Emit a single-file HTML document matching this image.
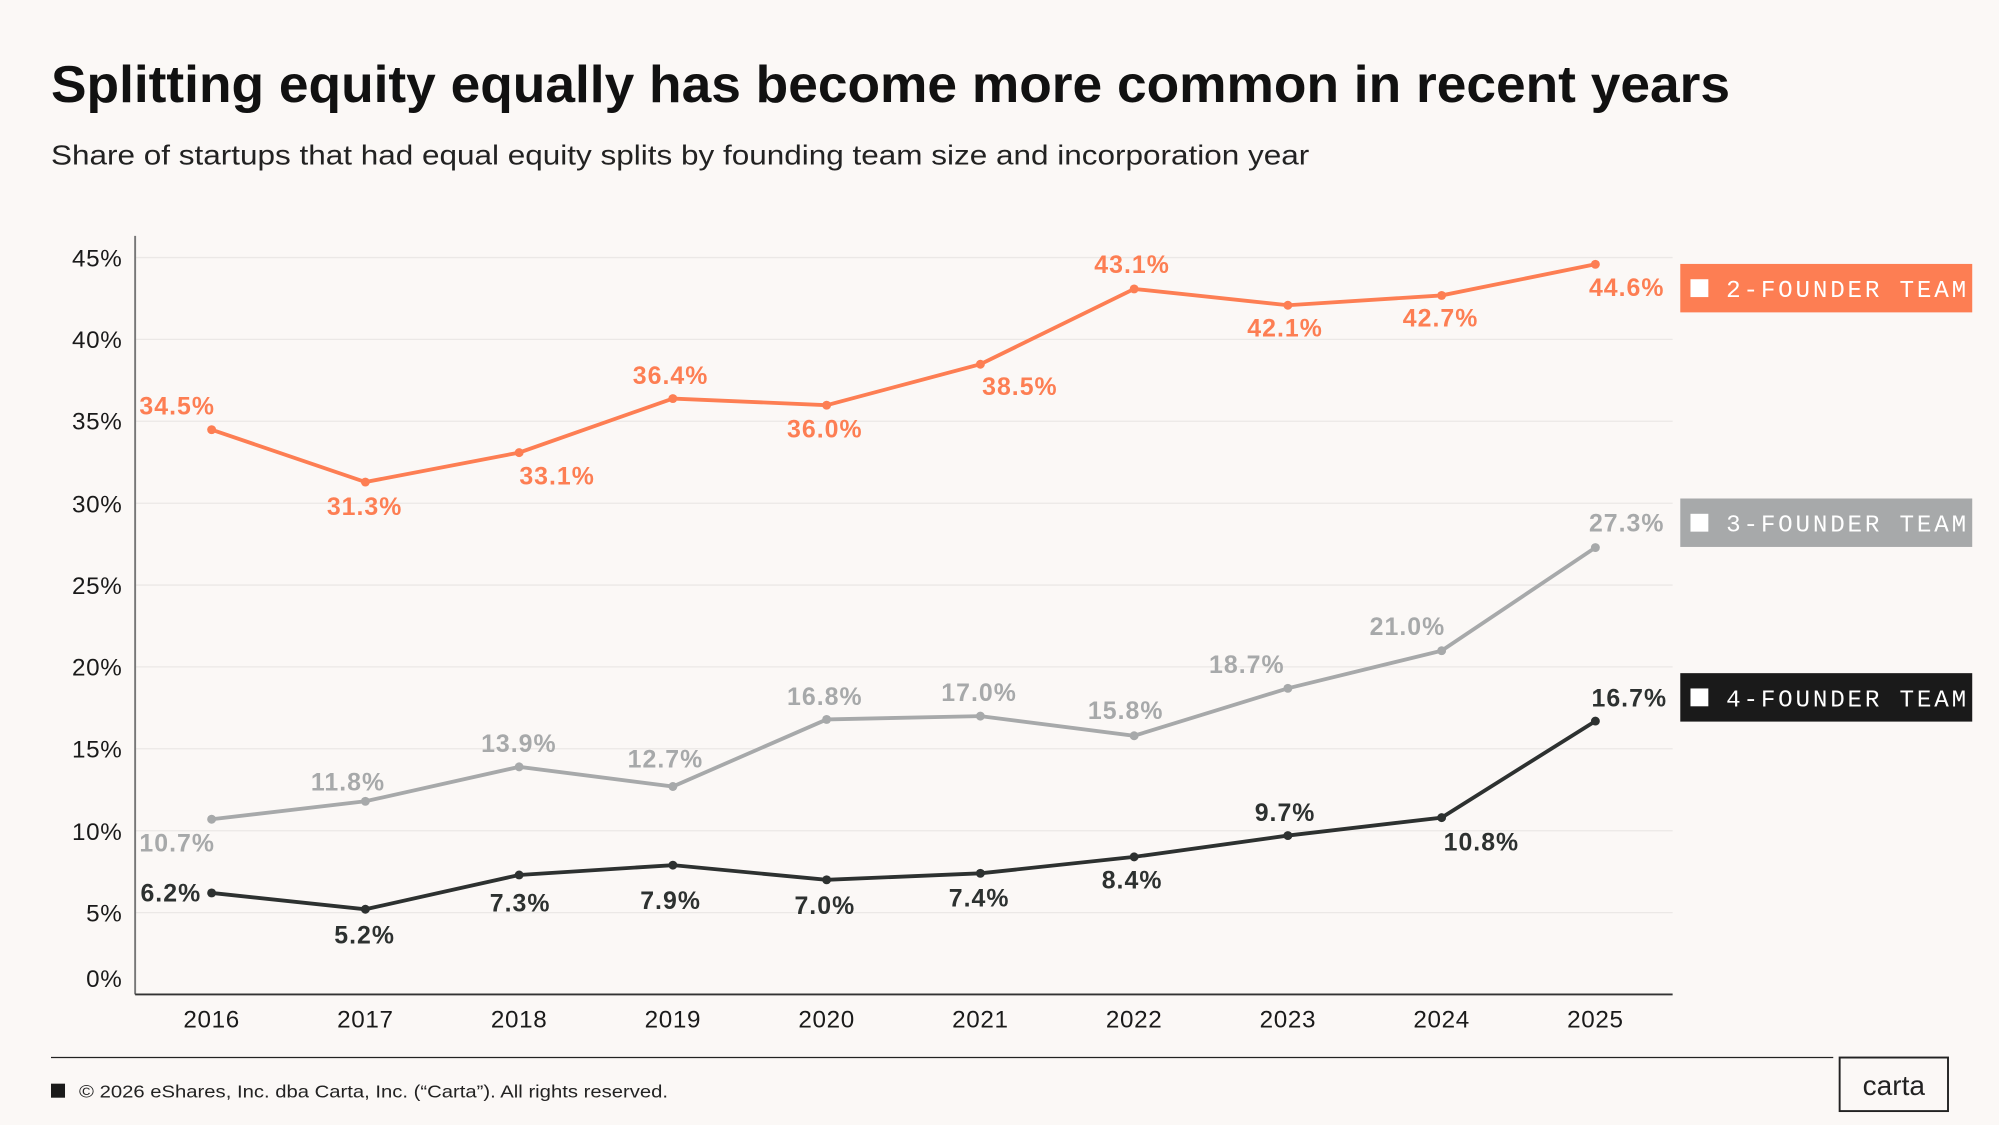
<!DOCTYPE html>
<html><head><meta charset="utf-8"><style>
html,body{margin:0;padding:0;background:#fbf8f6;}
svg{display:block;}
text{font-family:"Liberation Sans",sans-serif;}
.t{font-size:19px;fill:#1a1a1a;text-anchor:end;letter-spacing:0.5px;}
.y{font-size:19px;fill:#1a1a1a;text-anchor:middle;letter-spacing:0.5px;}
.l{font-size:19.5px;font-weight:bold;text-anchor:middle;letter-spacing:0.8px;}
.o{fill:#fd7e53}.g{fill:#a7a9aa}.d{fill:#2d3130}
.lg{font-family:"Liberation Mono",monospace;font-size:19px;fill:#fff;letter-spacing:2.2px;}
</style></head><body>
<svg width="1999" height="1125" viewBox="0 0 1568 882.4" xmlns="http://www.w3.org/2000/svg">
<rect width="1568" height="882.4" fill="#fbf8f6"/>
<text x="40" y="80" font-size="41" fill="#111" font-weight="bold" textLength="1317" lengthAdjust="spacingAndGlyphs">Splitting equity equally has become more common in recent years</text>
<text x="40" y="129" font-size="22" fill="#222" textLength="987" lengthAdjust="spacingAndGlyphs">Share of startups that had equal equity splits by founding team size and incorporation year</text>
<g stroke="#ebe8e6" stroke-width="1">
<line x1="106" x2="1312" y1="202" y2="202"/><line x1="106" x2="1312" y1="266.2" y2="266.2"/>
<line x1="106" x2="1312" y1="330.4" y2="330.4"/><line x1="106" x2="1312" y1="394.7" y2="394.7"/>
<line x1="106" x2="1312" y1="458.9" y2="458.9"/><line x1="106" x2="1312" y1="523.1" y2="523.1"/>
<line x1="106" x2="1312" y1="587.3" y2="587.3"/><line x1="106" x2="1312" y1="651.6" y2="651.6"/>
<line x1="106" x2="1312" y1="715.8" y2="715.8"/>
</g>
<line x1="106" y1="185" x2="106" y2="780" stroke="#777" stroke-width="1.5"/>
<line x1="106" y1="780" x2="1312" y2="780" stroke="#333" stroke-width="1.5"/>
<g class="t">
<text x="96" y="209">45%</text><text x="96" y="273">40%</text><text x="96" y="337">35%</text>
<text x="96" y="402">30%</text><text x="96" y="466">25%</text><text x="96" y="530">20%</text>
<text x="96" y="594">15%</text><text x="96" y="659">10%</text><text x="96" y="723">5%</text><text x="96" y="774">0%</text>
</g>
<g class="y">
<text x="166" y="806">2016</text><text x="286.6" y="806">2017</text><text x="407.2" y="806">2018</text>
<text x="527.8" y="806">2019</text><text x="648.4" y="806">2020</text><text x="769" y="806">2021</text>
<text x="889.6" y="806">2022</text><text x="1010.2" y="806">2023</text><text x="1130.8" y="806">2024</text><text x="1251.4" y="806">2025</text>
</g>
<polyline fill="none" stroke="#fd7e53" stroke-width="3" points="166,337 286.6,378.1 407.2,355 527.8,312.6 648.4,317.8 769,285.7 889.6,226.6 1010.2,239.4 1130.8,231.7 1251.4,207.3"/>
<polyline fill="none" stroke="#a7a9aa" stroke-width="3" points="166,642.6 286.6,628.5 407.2,601.5 527.8,616.9 648.4,564.3 769,561.7 889.6,577.1 1010.2,539.9 1130.8,510.4 1251.4,429.5"/>
<polyline fill="none" stroke="#2d3130" stroke-width="3" points="166,700.4 286.6,713.2 407.2,686.3 527.8,678.6 648.4,690.1 769,685 889.6,672.1 1010.2,655.4 1130.8,641.3 1251.4,565.6"/>
<g fill="#fd7e53"><circle cx="166" cy="337" r="3.5"/><circle cx="286.6" cy="378.1" r="3.5"/><circle cx="407.2" cy="355" r="3.5"/><circle cx="527.8" cy="312.6" r="3.5"/><circle cx="648.4" cy="317.8" r="3.5"/><circle cx="769" cy="285.7" r="3.5"/><circle cx="889.6" cy="226.6" r="3.5"/><circle cx="1010.2" cy="239.4" r="3.5"/><circle cx="1130.8" cy="231.7" r="3.5"/><circle cx="1251.4" cy="207.3" r="3.5"/></g>
<g fill="#a7a9aa"><circle cx="166" cy="642.6" r="3.5"/><circle cx="286.6" cy="628.5" r="3.5"/><circle cx="407.2" cy="601.5" r="3.5"/><circle cx="527.8" cy="616.9" r="3.5"/><circle cx="648.4" cy="564.3" r="3.5"/><circle cx="769" cy="561.7" r="3.5"/><circle cx="889.6" cy="577.1" r="3.5"/><circle cx="1010.2" cy="539.9" r="3.5"/><circle cx="1130.8" cy="510.4" r="3.5"/><circle cx="1251.4" cy="429.5" r="3.5"/></g>
<g fill="#2d3130"><circle cx="166" cy="700.4" r="3.5"/><circle cx="286.6" cy="713.2" r="3.5"/><circle cx="407.2" cy="686.3" r="3.5"/><circle cx="527.8" cy="678.6" r="3.5"/><circle cx="648.4" cy="690.1" r="3.5"/><circle cx="769" cy="685" r="3.5"/><circle cx="889.6" cy="672.1" r="3.5"/><circle cx="1010.2" cy="655.4" r="3.5"/><circle cx="1130.8" cy="641.3" r="3.5"/><circle cx="1251.4" cy="565.6" r="3.5"/></g>
<g class="l o">
<text x="139" y="325">34.5%</text><text x="286" y="404">31.3%</text><text x="437" y="380">33.1%</text><text x="526" y="301">36.4%</text><text x="647" y="343">36.0%</text><text x="800" y="310">38.5%</text><text x="888" y="214">43.1%</text><text x="1008" y="264">42.1%</text><text x="1130" y="256">42.7%</text><text x="1276" y="232">44.6%</text>
</g>
<g class="l g">
<text x="139" y="668">10.7%</text><text x="273" y="620">11.8%</text><text x="407" y="590">13.9%</text><text x="522" y="602">12.7%</text><text x="647" y="553">16.8%</text><text x="768" y="550">17.0%</text><text x="883" y="564">15.8%</text><text x="978" y="528">18.7%</text><text x="1104" y="498">21.0%</text><text x="1276" y="417">27.3%</text>
</g>
<g class="l d">
<text x="134" y="707">6.2%</text><text x="286" y="740">5.2%</text><text x="408" y="715">7.3%</text><text x="526" y="713">7.9%</text><text x="647" y="717">7.0%</text><text x="768" y="711">7.4%</text><text x="888" y="697">8.4%</text><text x="1008" y="644">9.7%</text><text x="1162" y="667">10.8%</text><text x="1278" y="554">16.7%</text>
</g>
<rect x="1318" y="207" width="229" height="38" fill="#fd7e53"/>
<rect x="1326" y="219" width="14" height="14" fill="#fff"/>
<text class="lg" x="1354" y="233">2-FOUNDER TEAM</text>
<rect x="1318" y="391" width="229" height="38" fill="#a7a9aa"/>
<rect x="1326" y="403" width="14" height="14" fill="#fff"/>
<text class="lg" x="1354" y="417">3-FOUNDER TEAM</text>
<rect x="1318" y="528" width="229" height="38" fill="#1a1a1a"/>
<rect x="1326" y="540" width="14" height="14" fill="#fff"/>
<text class="lg" x="1354" y="554">4-FOUNDER TEAM</text>
<line x1="40" y1="829.5" x2="1438" y2="829.5" stroke="#222" stroke-width="1"/>
<rect x="40" y="850" width="11" height="11" fill="#1a1a1a"/>
<text x="62" y="861" font-size="14" fill="#222" textLength="462" lengthAdjust="spacingAndGlyphs">© 2026 eShares, Inc. dba Carta, Inc. (“Carta”). All rights reserved.</text>
<rect x="1443" y="829.5" width="85" height="42" fill="none" stroke="#222" stroke-width="1.5"/>
<text x="1485.5" y="859" font-size="22" fill="#222" text-anchor="middle">carta</text>
</svg>
</body></html>
